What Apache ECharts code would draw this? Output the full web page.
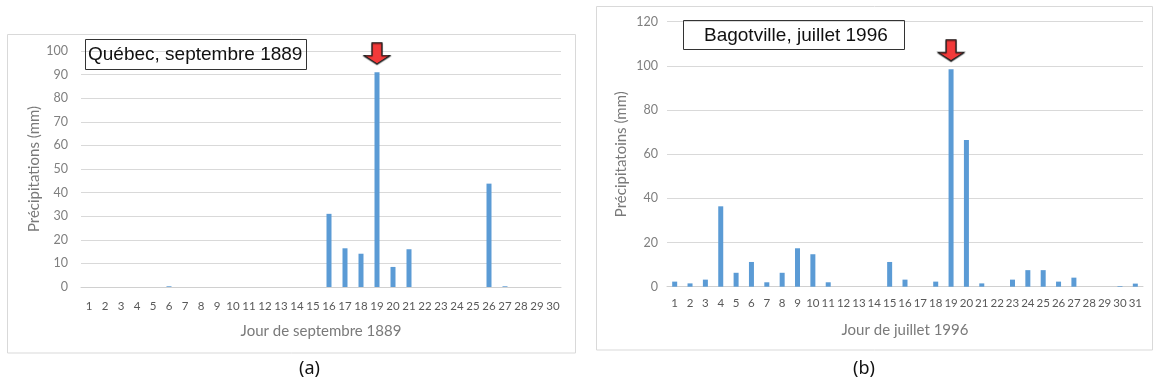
<!DOCTYPE html>
<html><head><meta charset="utf-8">
<script src="https://cdn.jsdelivr.net/npm/echarts@6/dist/echarts.min.js"></script>
<style>html,body{margin:0;padding:0;background:#fff}#c{width:1153px;height:386px}</style>
</head><body><div id="c"></div>
<script>
const daysA = Array.from({length:30},(_,i)=>String(i+1));
const valuesA = [0,0,0,0,0,0.3,0,0,0,0,0,0,0,0,0,31,16.4,14.1,91,8.5,16,0,0,0,0,43.8,0.3,0,0,0];
const daysB = Array.from({length:31},(_,i)=>String(i+1));
const valuesB = [2.3,1.5,3.2,36.4,6.3,11.2,2,6.3,17.4,14.7,2,0,0,0,11.2,3.2,0,2.3,98.5,66.4,1.5,0,3.2,7.5,7.5,2.3,4.1,0,0,0.3,1.4];
const titleA = 'Québec, septembre 1889';
const titleB = 'Bagotville, juillet 1996';
const xNameA = 'Jour de septembre 1889';
const xNameB = 'Jour de juillet 1996';
const yNameA = 'Précipitations (mm)';
const yNameB = 'Précipitatoins (mm)';
const peakDay = '19';

const chart = echarts.init(document.getElementById('c'));
const xTickFont = {color:'#595959', fontSize:11.5, fontFamily:'Lato'};
const yTickFont = {color:'#7f7f7f', fontSize:12.5, fontFamily:'Lato'};
const nameFont = {color:'#7a7a7a', fontSize:15, fontFamily:'Lato'};
const arrowPath = 'path://M4,0 L9,0 L9,6 L13,6 L6.5,10 L0,6 L4,6 Z';
function arrow(val){
  return {symbol:arrowPath, symbolSize:[26,21], symbolKeepAspect:false,
    symbolOffset:[0,-19], label:{show:false},
    itemStyle:{color:'#f23a3a', borderColor:'#222', borderWidth:1, shadowColor:'rgba(0,0,0,0.6)', shadowOffsetY:1, shadowBlur:1},
    data:[{coord:[peakDay,val]}]};
}
chart.setOption({
  animation:false,
  title:[
    {text:titleA, left:85, top:39, padding:[6,4,6,3], borderColor:'#333', borderWidth:1,
     textStyle:{fontFamily:'Liberation Sans', fontSize:19, fontWeight:'normal', color:'#111'}},
    {text:titleB, left:683, top:20, padding:[6,17,5,21], borderColor:'#333', borderWidth:1,
     textStyle:{fontFamily:'Liberation Sans', fontSize:19, fontWeight:'normal', color:'#111'}}
  ],
  graphic:[
    {type:'rect', shape:{x:7.5,y:34.5,width:568,height:318.5}, style:{fill:'none', stroke:'#d9d9d9', lineWidth:1}, z:-1},
    {type:'rect', shape:{x:596.5,y:6.5,width:556,height:343.5}, style:{fill:'none', stroke:'#d9d9d9', lineWidth:1}, z:-1},
    {type:'text', left:299, top:360, style:{text:'(a)', font:'18px "Noto Sans"', fill:'#111'}},
    {type:'text', left:853, top:360, style:{text:'(b)', font:'18px "Noto Sans"', fill:'#111'}}
  ],
  grid:[
    {left:81, right:592, top:51, bottom:99},
    {left:667, right:10, top:21.7, bottom:99.3}
  ],
  xAxis:[
    {type:'category', gridIndex:0, data:daysA, axisTick:{show:false},
     axisLine:{lineStyle:{color:'#d0d0d0'}}, axisLabel:Object.assign({interval:0, margin:13}, xTickFont),
     name:xNameA, nameLocation:'middle', nameGap:37, nameTextStyle:nameFont},
    {type:'category', gridIndex:1, data:daysB, axisTick:{show:false},
     axisLine:{lineStyle:{color:'#d0d0d0'}}, axisLabel:Object.assign({interval:0, margin:11}, xTickFont),
     name:xNameB, nameLocation:'middle', nameGap:36, nameTextStyle:nameFont},
  ],
  yAxis:[
    {type:'value', gridIndex:0, min:0, max:100, interval:10,
     axisLine:{show:false}, axisTick:{show:false}, splitLine:{lineStyle:{color:'#d9d9d9'}},
     axisLabel:Object.assign({margin:13}, yTickFont),
     name:yNameA, nameLocation:'middle', nameGap:39, nameRotate:90, nameTextStyle:nameFont},
    {type:'value', gridIndex:1, min:0, max:120, interval:20,
     axisLine:{show:false}, axisTick:{show:false}, splitLine:{lineStyle:{color:'#d9d9d9'}},
     axisLabel:Object.assign({margin:9}, yTickFont),
     name:yNameB, nameLocation:'middle', nameGap:38, nameRotate:90, nameTextStyle:nameFont}
  ],
  series:[
    {type:'bar', xAxisIndex:0, yAxisIndex:0, data:valuesA, barWidth:5, itemStyle:{color:'#5b9bd5'},
     markPoint:arrow(91)},
    {type:'bar', xAxisIndex:1, yAxisIndex:1, data:valuesB, barWidth:5, itemStyle:{color:'#5b9bd5'},
     markPoint:arrow(98.5)}
  ]
});
</script></body></html>
